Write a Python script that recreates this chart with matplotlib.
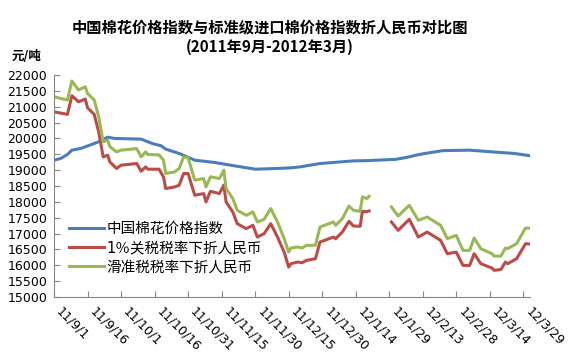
import numpy as np
import matplotlib
matplotlib.use('Agg')
import matplotlib.pyplot as plt
import matplotlib.dates as mdates

plt.rcParams['font.family'] = ['DejaVu Sans', 'Noto Sans CJK SC']

# China cotton index (blue)
cn_dates = ['2011-09-01', '2011-09-04', '2011-09-07', '2011-09-09', '2011-09-13',
            '2011-09-17', '2011-09-21', '2011-09-25', '2011-09-28', '2011-10-10',
            '2011-10-15', '2011-10-19', '2011-10-21', '2011-10-27', '2011-11-03',
            '2011-11-12', '2011-11-19', '2011-11-30', '2011-12-09', '2011-12-16',
            '2011-12-20', '2011-12-29', '2012-01-13', '2012-01-19', '2012-02-01',
            '2012-02-07', '2012-02-10', '2012-02-14', '2012-02-22', '2012-03-05',
            '2012-03-15', '2012-03-25', '2012-04-01']
cn_index = [19314, 19368, 19494, 19630, 19684,
            19788, 19893, 20040, 20000, 19978,
            19840, 19766, 19662, 19526, 19314,
            19241, 19156, 19030, 19051, 19072,
            19102, 19209, 19292, 19300, 19340,
            19420, 19472, 19526, 19615, 19630,
            19576, 19526, 19455]

# imported cotton index in RMB (red: 1% tariff, green: sliding tariff)
imp_dates = ['2011-09-01', '2011-09-07', '2011-09-09', '2011-09-12', '2011-09-15',
             '2011-09-16', '2011-09-19', '2011-09-21', '2011-09-23', '2011-09-25',
             '2011-09-26', '2011-09-29', '2011-10-01', '2011-10-08', '2011-10-10',
             '2011-10-12', '2011-10-13', '2011-10-18', '2011-10-20', '2011-10-21',
             '2011-10-25', '2011-10-27', '2011-10-29', '2011-10-31', '2011-11-03',
             '2011-11-07', '2011-11-08', '2011-11-10', '2011-11-14', '2011-11-16',
             '2011-11-17', '2011-11-20', '2011-11-22', '2011-11-26', '2011-11-29',
             '2011-12-01', '2011-12-04', '2011-12-07', '2011-12-10', '2011-12-13',
             '2011-12-15', '2011-12-16', '2011-12-19', '2011-12-21', '2011-12-23',
             '2011-12-27', '2011-12-29', '2012-01-04', '2012-01-05', '2012-01-08',
             '2012-01-11', '2012-01-13', '2012-01-16', '2012-01-17', '2012-01-19',
             '2012-01-20', '2012-01-25', '2012-01-30', '2012-02-02', '2012-02-07',
             '2012-02-11', '2012-02-15', '2012-02-21', '2012-02-24', '2012-02-28',
             '2012-03-02', '2012-03-05', '2012-03-07', '2012-03-10', '2012-03-15',
             '2012-03-16', '2012-03-19', '2012-03-21', '2012-03-22', '2012-03-26',
             '2012-03-30', '2012-04-01']
tariff_1pct = [20840, 20758, 21346, 21156, 21240,
               20967, 20758, 20209, 19418, 19472,
               19260, 19051, 19156, 19209, 18966,
               19102, 19030, 19030, 18786, 18420,
               18470, 18524, 18894, 18894, 18208,
               18262, 17997, 18334, 18262, 18524,
               17997, 17681, 17313, 17156, 17260,
               16890, 16997, 17313, 16890, 16416,
               15942, 16050, 16103, 16080, 16154,
               16208, 16732, 16890, 16840, 17048,
               17386, 17240, 17230, 17702, 17690,
               17712, np.nan, 17365, 17102, 17450,
               16890, 17048, 16786, 16366, 16416,
               15996, 15996, 16366, 16050, 15911,
               15840, 15870, 16103, 16050, 16208,
               16682, 16670]
tariff_slide = [21314, 21210, 21810, 21526, 21630,
                21420, 21210, 20680, 19893, 19946,
                19740, 19576, 19630, 19680, 19418,
                19576, 19494, 19480, 19314, 18894,
                18945, 19051, 19418, 19387, 18682,
                18735, 18470, 18790, 18735, 18998,
                18420, 18104, 17734, 17576, 17681,
                17365, 17450, 17788, 17365, 16840,
                16416, 16545, 16577, 16545, 16630,
                16630, 17206, 17365, 17260, 17471,
                17870, 17734, 17702, 18155, 18104,
                18176, np.nan, 17838, 17554, 17892,
                17418, 17523, 17260, 16840, 16945,
                16470, 16470, 16860, 16524, 16366,
                16290, 16290, 16545, 16524, 16682,
                17175, 17166]

tick_labels = ['11/9/1', '11/9/16', '11/10/1', '11/10/16', '11/10/31', '11/11/15',
               '11/11/30', '11/12/15', '11/12/30', '12/1/14', '12/1/29', '12/2/13',
               '12/2/28', '12/3/14', '12/3/29']

cn_x = np.array(cn_dates, dtype='datetime64[D]')
imp_x = np.array(imp_dates, dtype='datetime64[D]')

fig = plt.figure(figsize=(5.72, 3.63), dpi=100)
ax = fig.add_axes([0.0944, 0.1818, 0.8322, 0.6116])

ax.plot(cn_x, cn_index, color='#4A7EBB', lw=2.2, label='中国棉花价格指数')
ax.plot(imp_x, tariff_1pct, color='#BE4B48', lw=2.2, label='1％关税税率下折人民币')
ax.plot(imp_x, tariff_slide, color='#98B954', lw=2.2, label='滑准税税率下折人民币')

ax.set_ylim(15000, 22000)
ax.set_yticks(np.arange(15000, 22001, 500))
ax.set_xlim(cn_x[0], cn_x[-1])
ticks = cn_x[0] + np.arange(len(tick_labels)) * 15
ax.set_xticks(ticks)
ax.set_xticklabels(tick_labels, rotation=-45, ha='left', va='top')

for s in ['top', 'right']:
    ax.spines[s].set_visible(False)
for s in ['left', 'bottom']:
    ax.spines[s].set_color('#868686')
ax.tick_params(axis='both', direction='in', length=4, color='#868686',
               labelsize=9, width=0.8)
ax.tick_params(axis='y', pad=5)
ax.tick_params(axis='x', pad=6)

leg = ax.legend(loc='upper left', bbox_to_anchor=(0.02, 0.37), frameon=False,
                fontsize=10.5, handlelength=2.4, handletextpad=0.15,
                labelspacing=0.3, borderaxespad=0)

fig.text(0.472, 0.925, '中国棉花价格指数与标准级进口棉价格指数折人民币对比图',
         ha='center', va='center', fontsize=11, fontweight='bold',
         family=['Noto Sans CJK SC'])
fig.text(0.472, 0.87, '(2011年9月-2012年3月)', ha='center', va='center',
         fontsize=11, fontweight='bold', family=['Noto Sans CJK SC'])
fig.text(0.02, 0.845, '元/吨', ha='left', va='center', fontsize=9,
         fontweight='bold', family=['Noto Sans CJK SC'])

fig.savefig('out.png', dpi=100)
